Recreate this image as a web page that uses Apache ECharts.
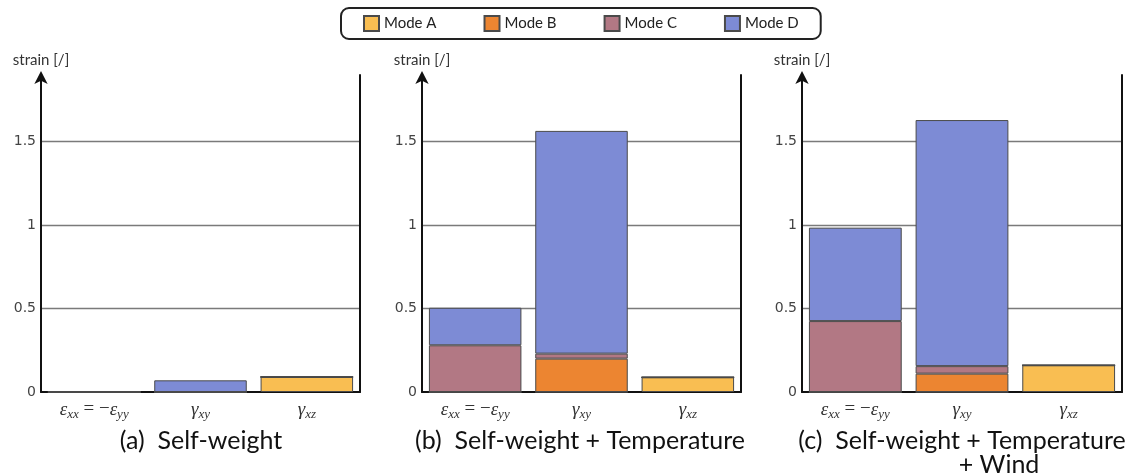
<!DOCTYPE html>
<html>
<head>
<meta charset="utf-8">
<script src="https://cdn.jsdelivr.net/npm/echarts@6/dist/echarts.min.js"></script>
<style>html,body{margin:0;padding:0;background:#fff}#c{width:1131px;height:476px}</style>
</head>
<body>
<div id="c"></div>
<script>
const categories = ['eps', 'gxy', 'gxz'];
const modes = ['Mode A', 'Mode B', 'Mode C', 'Mode D'];
const colors = ['#F9BE52', '#EC8531', '#B27884', '#7D8BD5'];
const yTicks = [0, 0.5, 1, 1.5];
const yMax = 1.9;
const panelTitles = ['(a)  Self-weight', '(b)  Self-weight + Temperature', '(c)  Self-weight + Temperature'];
const panelTitleExtra = '+ Wind';

// values per panel: [eps, gamma_xy, gamma_xz]
const selfWeight_A = [0, 0, 0.09];
const selfWeight_B = [0, 0, 0];
const selfWeight_C = [0, 0, 0];
const selfWeight_D = [0, 0.07, 0];

const temp_A = [0, 0, 0.088];
const temp_B = [0, 0.2, 0];
const temp_C = [0.28, 0.03, 0];
const temp_D = [0.225, 1.335, 0];

const wind_A = [0, 0, 0.16];
const wind_B = [0, 0.11, 0];
const wind_C = [0.425, 0.045, 0];
const wind_D = [0.56, 1.475, 0];

const panels = [
  [selfWeight_A, selfWeight_B, selfWeight_C, selfWeight_D],
  [temp_A, temp_B, temp_C, temp_D],
  [wind_A, wind_B, wind_C, wind_D]
];

const grids = [
  {left: 41, right: 771, top: 75, bottom: 84},
  {left: 422, right: 390, top: 75, bottom: 84},
  {left: 802, right: 9, top: 75, bottom: 84}
];

const labelRich = {
  i: {fontFamily: 'Liberation Serif', fontStyle: 'italic', fontSize: 19, color: '#333'},
  s: {fontFamily: 'Liberation Serif', fontStyle: 'italic', fontSize: 13, color: '#333', padding: [10, 0, 0, 0]},
  n: {fontFamily: 'Liberation Serif', fontSize: 19, color: '#333'}
};
function catLabel(v) {
  if (v === 'eps') return '{i|ε}{s|xx}{n| = −}{i|ε}{s|yy}';
  if (v === 'gxy') return '{i|γ}{s|xy}';
  return '{i|γ}{s|xz}';
}

const xAxes = [], yAxes = [], series = [];
grids.forEach((g, gi) => {
  xAxes.push({
    type: 'category', gridIndex: gi, data: categories,
    axisLine: {lineStyle: {color: '#111', width: 2}},
    axisTick: {show: false},
    axisLabel: {formatter: catLabel, rich: labelRich, margin: 6, interval: 0, hideOverlap: false}
  });
  yAxes.push({
    type: 'value', gridIndex: gi, min: 0, max: yMax, interval: 0.5,
    name: 'strain [/]', nameLocation: 'end', nameGap: 7,
    nameTextStyle: {fontFamily: 'Lato', fontSize: 15, color: '#333', align: 'center'},
    axisLine: {show: true, lineStyle: {color: '#111', width: 2}, symbol: ['none', 'arrow'], symbolSize: [10, 13], symbolOffset: [0, 4]},
    axisTick: {show: false},
    axisLabel: {fontFamily: 'DejaVu Sans', fontSize: 14, color: '#444', margin: 5, showMaxLabel: false,
      formatter: v => (yTicks.indexOf(v) >= 0 ? String(v) : '')},
    splitLine: {show: true, showMinLine: false, showMaxLine: false, lineStyle: {color: '#7a7a7a', width: 1.3}}
  });
  yAxes.push({
    type: 'value', gridIndex: gi, min: 0, max: yMax, position: 'right',
    axisLine: {show: true, lineStyle: {color: '#111', width: 2}},
    axisTick: {show: false}, axisLabel: {show: false}, splitLine: {show: false}
  });
  modes.forEach((m, mi) => {
    series.push({
      type: 'bar', name: m, stack: 'p' + gi, xAxisIndex: gi, yAxisIndex: gi * 2,
      data: panels[gi][mi], barWidth: '87%',
      itemStyle: {color: colors[mi], borderColor: '#4a4a4a', borderWidth: 1},
      emphasis: {disabled: true}
    });
  });
});

const titleStyle = {fontFamily: 'Lato', fontSize: 25, fill: '#111', textAlign: 'center', textVerticalAlign: 'middle'};
const graphics = [
  {type: 'text', x: 201, y: 441, style: Object.assign({text: panelTitles[0]}, titleStyle)},
  {type: 'text', x: 580, y: 441, style: Object.assign({text: panelTitles[1]}, titleStyle)},
  {type: 'text', x: 962, y: 441, style: Object.assign({text: panelTitles[2]}, titleStyle)},
  {type: 'text', x: 999, y: 465, style: Object.assign({text: panelTitleExtra}, titleStyle)}
];

const chart = echarts.init(document.getElementById('c'));
chart.setOption({
  animation: false,
  backgroundColor: '#fff',
  legend: {
    data: modes, left: 341, top: 8,
    padding: [7, 22, 7, 22], itemGap: 47, itemWidth: 15, itemHeight: 15,
    borderColor: '#222', borderWidth: 2, borderRadius: 8,
    icon: 'rect',
    textStyle: {fontFamily: 'Lato', fontSize: 15, color: '#222'}
  },
  grid: grids,
  xAxis: xAxes,
  yAxis: yAxes,
  series: series,
  graphic: graphics
});
</script>
</body>
</html>
